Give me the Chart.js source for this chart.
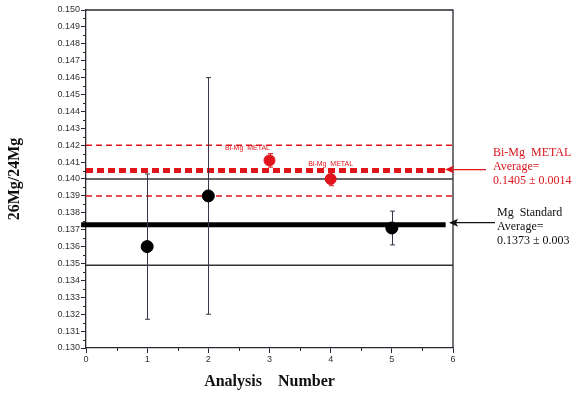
<!DOCTYPE html>
<html>
<head>
<meta charset="utf-8">
<script src="https://cdn.jsdelivr.net/npm/chart.js@4/dist/chart.umd.min.js"></script>
<style>
  html, body { margin: 0; padding: 0; background: #fff; }
  #wrap { width: 576px; height: 398px; }
</style>
</head>
<body>
<div id="wrap"><canvas id="chart" width="576" height="398"></canvas></div>
<script>
// Mg standard analyses (black)
const stdNumbers = [1, 2, 5];
const stdValues = [0.1360, 0.1390, 0.1371];
const stdErrors = [0.0043, 0.0070, 0.0010];

// Bi-Mg metal analyses (red)
const metalNumbers = [3, 4];
const metalValues = [0.1411, 0.1400];
const metalErrors = [0.0004, 0.0004];

// averages and bands
const metalAverage = 0.1405;
const metalBand = [0.1390, 0.1420];
const stdAverage = 0.1373;
const stdBand = [0.1349, 0.1400];
const averageLineStart = -0.08;
const averageLineEnd = 5.88;

// axes
const xTicks = [0, 1, 2, 3, 4, 5, 6];
const yMin = 0.130, yMax = 0.150, yStep = 0.001;

const metalText = ['Bi-Mg  METAL', 'Average=', '0.1405 \u00b1 0.0014'];
const stdText = ['Mg  Standard', 'Average=', '0.1373 \u00b1 0.003'];
const pointLabel = 'Bi-Mg  METAL';

const RED = '#e0141b';
const DARK = '#2b2730';

function hline(y, x0, x1) {
    return [{ x: x0, y: y }, { x: x1, y: y }];
}

const errorBars = {
    id: 'errorBars',
    beforeDatasetDraw(chart, args) {
        const ds = chart.data.datasets[args.index];
        if (!ds.errors) return;
        const ctx = chart.ctx;
        const xs = chart.scales.x, ys = chart.scales.y;
        ctx.save();
        ctx.strokeStyle = ds.errorColor;
        ctx.lineWidth = 1;
        ds.data.forEach((p, i) => {
            const px = Math.round(xs.getPixelForValue(p.x)) + 0.5;
            const top = ys.getPixelForValue(p.y + ds.errors[i]);
            const bot = ys.getPixelForValue(p.y - ds.errors[i]);
            ctx.beginPath();
            ctx.moveTo(px, top); ctx.lineTo(px, bot);
            ctx.moveTo(px - 2.5, top); ctx.lineTo(px + 2.5, top);
            ctx.moveTo(px - 2.5, bot); ctx.lineTo(px + 2.5, bot);
            ctx.stroke();
        });
        ctx.restore();
    }
};

function arrow(ctx, x0, x1, y, color) {
    ctx.save();
    ctx.strokeStyle = color;
    ctx.fillStyle = color;
    ctx.lineWidth = 1.2;
    ctx.beginPath();
    ctx.moveTo(x0, y); ctx.lineTo(x1 + 6, y);
    ctx.stroke();
    ctx.beginPath();
    ctx.moveTo(x1, y);
    ctx.lineTo(x1 + 9, y - 4);
    ctx.lineTo(x1 + 7, y);
    ctx.lineTo(x1 + 9, y + 4);
    ctx.closePath();
    ctx.fill();
    ctx.restore();
}

const extras = {
    id: 'extras',
    afterDraw(chart) {
        const ctx = chart.ctx;
        const xs = chart.scales.x, ys = chart.scales.y;
        const a = chart.chartArea;
        ctx.save();
        // frame top and right
        ctx.strokeStyle = DARK;
        ctx.lineWidth = 1.3;
        ctx.beginPath();
        ctx.moveTo(a.left, a.top); ctx.lineTo(a.right, a.top); ctx.lineTo(a.right, a.bottom);
        ctx.stroke();
        // minor ticks
        ctx.lineWidth = 1;
        ctx.beginPath();
        for (let v = yMin + yStep / 2; v < yMax; v += yStep) {
            const py = Math.round(ys.getPixelForValue(v)) + 0.5;
            ctx.moveTo(a.left - 3, py); ctx.lineTo(a.left, py);
        }
        for (let i = 0; i < xTicks.length - 1; i++) {
            const px = Math.round(xs.getPixelForValue(xTicks[i] + 0.5)) + 0.5;
            ctx.moveTo(px, a.bottom); ctx.lineTo(px, a.bottom + 3);
        }
        ctx.stroke();

        // labels over the metal points
        ctx.fillStyle = RED;
        ctx.font = '7px "Liberation Sans", sans-serif';
        ctx.textAlign = 'center';
        ctx.textBaseline = 'middle';
        const offs = [[-22, -12], [0, -15]];
        metalNumbers.forEach((n, i) => {
            ctx.fillText(pointLabel, xs.getPixelForValue(n) + offs[i][0],
                ys.getPixelForValue(metalValues[i]) + offs[i][1]);
        });

        // arrows
        arrow(ctx, 486, a.right - 8, ys.getPixelForValue(metalAverage) - 1, RED);
        arrow(ctx, 495, a.right - 4, ys.getPixelForValue(stdAverage) - 2, '#111');

        // right annotations
        ctx.textAlign = 'left';
        ctx.font = '12px "Liberation Serif", serif';
        ctx.fillStyle = '#d8161e';
        const my = ys.getPixelForValue(metalAverage) - 18;
        metalText.forEach((t, i) => ctx.fillText(t, 493, my + i * 14));
        ctx.fillStyle = '#111';
        const sy = ys.getPixelForValue(stdAverage) - 12;
        stdText.forEach((t, i) => ctx.fillText(t, 497, sy + i * 14));
        ctx.restore();
    }
};

const ctx = document.getElementById('chart').getContext('2d');
new Chart(ctx, {
    type: 'scatter',
    data: {
        datasets: [
            { type: 'line', data: hline(stdBand[0], 0, 6), borderColor: '#333', borderWidth: 1.6, pointRadius: 0, order: 9 },
            { type: 'line', data: hline(stdBand[1], 0, 6), borderColor: '#333', borderWidth: 1.6, pointRadius: 0, order: 9 },
            { type: 'line', data: hline(metalBand[0], 0, 6), borderColor: RED, borderWidth: 1.5, borderDash: [6, 4], pointRadius: 0, order: 8 },
            { type: 'line', data: hline(metalBand[1], 0, 6), borderColor: RED, borderWidth: 1.5, borderDash: [6, 4], pointRadius: 0, order: 8 },
            { type: 'line', data: hline(stdAverage, averageLineStart, averageLineEnd), borderColor: '#000', borderWidth: 5, pointRadius: 0, order: 7, borderCapStyle: 'butt', clip: false },
            { type: 'line', data: hline(metalAverage, 0, averageLineEnd), borderColor: RED, borderWidth: 5, borderDash: [7, 4], pointRadius: 0, order: 7 },
            {
                label: 'Mg Standard',
                data: stdNumbers.map((n, i) => ({ x: n, y: stdValues[i] })),
                errors: stdErrors, errorColor: '#3c3448',
                backgroundColor: '#000', borderColor: '#000',
                pointRadius: 6, order: 1
            },
            {
                label: 'Bi-Mg METAL',
                data: metalNumbers.map((n, i) => ({ x: n, y: metalValues[i] })),
                errors: metalErrors, errorColor: RED,
                backgroundColor: RED, borderColor: RED,
                pointRadius: 5.5, order: 1
            }
        ]
    },
    options: {
        responsive: false,
        animation: false,
        devicePixelRatio: 1,
        layout: { padding: { left: 0, right: 123, top: 10, bottom: 0 } },
        plugins: { legend: { display: false }, tooltip: { enabled: false } },
        scales: {
            x: {
                type: 'linear',
                min: 0, max: 6,
                afterFit: s => { s.height = 50; },
                afterBuildTicks: s => { s.ticks = xTicks.map(v => ({ value: v })); },
                ticks: { color: '#333', font: { family: '"Liberation Sans", sans-serif', size: 9 }, padding: 1, maxRotation: 0 },
                grid: { display: true, drawOnChartArea: false, drawTicks: true, tickLength: 5, color: DARK },
                border: { color: DARK, width: 1.3 },
                title: {
                    display: true, text: 'Analysis    Number', color: '#111',
                    font: { family: '"Liberation Serif", serif', size: 16, weight: 'bold' },
                    padding: { top: 0, bottom: 7 }
                }
            },
            y: {
                min: yMin, max: yMax,
                afterFit: s => { s.width = 86; },
                ticks: {
                    stepSize: yStep, color: '#333', padding: 1,
                    font: { family: '"Liberation Sans", sans-serif', size: 9 },
                    callback: v => v.toFixed(3)
                },
                grid: { display: true, drawOnChartArea: false, drawTicks: true, tickLength: 5, color: DARK },
                border: { color: DARK, width: 1.3 },
                title: {
                    display: true, text: '26Mg/24Mg', color: '#111',
                    font: { family: '"Liberation Serif", serif', size: 16, weight: 'bold' },
                    padding: { top: 5, bottom: 0 }
                }
            }
        }
    },
    plugins: [errorBars, extras]
});
</script>
</body>
</html>
